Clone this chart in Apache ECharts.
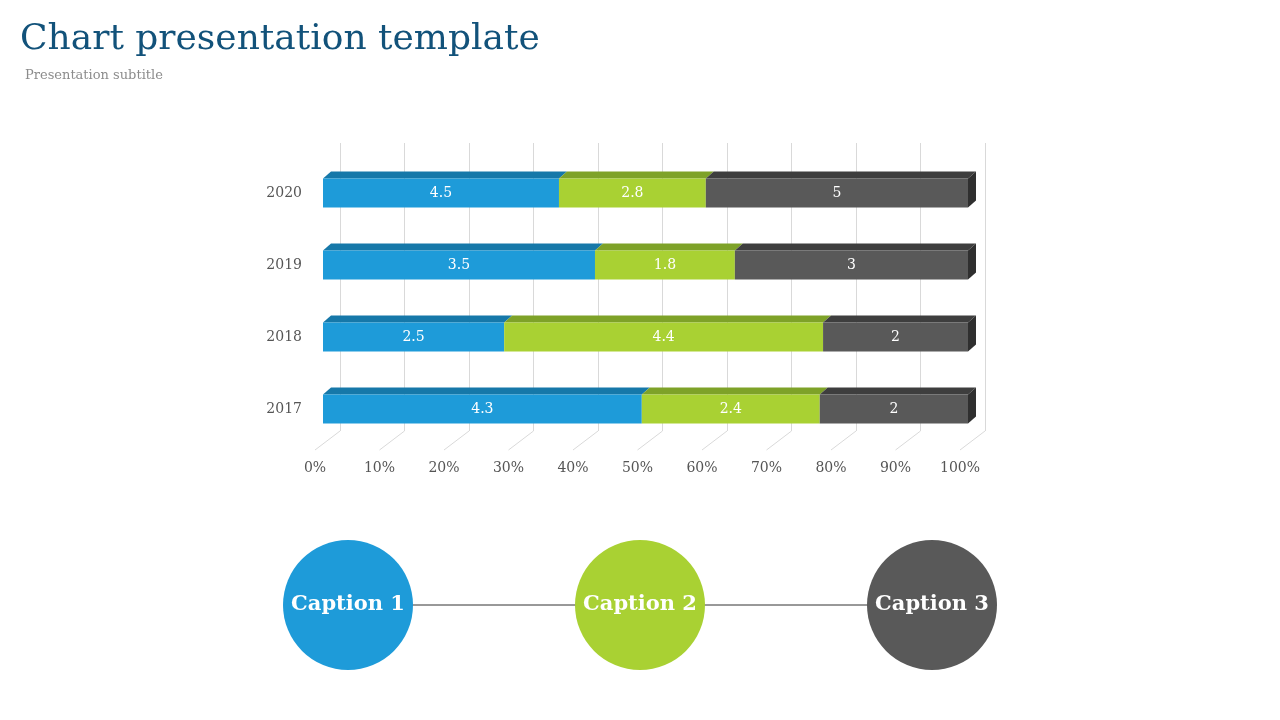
<!DOCTYPE html>
<html><head><meta charset="utf-8">
<script src="https://cdn.jsdelivr.net/npm/echarts@6/dist/echarts.min.js"></script>
<style>html,body{margin:0;background:#fff}#c{width:1280px;height:720px}</style></head>
<body><div id="c"></div>
<script>
const categories = ['2017','2018','2019','2020'];
const series1 = [4.3, 2.5, 3.5, 4.5];
const series2 = [2.4, 4.4, 1.8, 2.8];
const series3 = [2, 2, 3, 5];
const tickLabels = [0,10,20,30,40,50,60,70,80,90,100];
const captions = ['Caption 1','Caption 2','Caption 3'];

const front = ['#1E9BD9','#A9D133','#595959'];
const top_ = ['#1678A9','#7EA228','#3E3E3E'];
const side = ['#14628A','#6A8A20','#2F2F2F'];
const serif = 'Georgia, "DejaVu Serif", serif';
const all = [series1, series2, series3];

function buildData(si){
  return categories.map((c,i)=>{
    const tot = series1[i]+series2[i]+series3[i];
    let s = 0; for(let k=0;k<si;k++) s += all[k][i];
    return [s/tot*100, (s+all[si][i])/tot*100, i, all[si][i]];
  });
}
function render(si){
  return function(params, api){
    const p0 = api.coord([api.value(0), api.value(2)]);
    const p1 = api.coord([api.value(1), api.value(2)]);
    const h = 29, dx = 8, dy = 7;
    const x0=p0[0], x1=p1[0], y=p0[1]-h/2;
    const ch = [
      {type:'polygon',shape:{points:[[x0,y],[x1,y],[x1+dx,y-dy],[x0+dx,y-dy]]},style:{fill:top_[si]}},
      {type:'rect',shape:{x:x0,y:y,width:x1-x0,height:h},style:{fill:front[si]}},
      {type:'text',style:{x:(x0+x1)/2,y:p0[1],text:String(api.value(3)),fill:'#fff',font:'14px '+serif,align:'center',verticalAlign:'middle'}}
    ];
    if(si===2) ch.push({type:'polygon',shape:{points:[[x1,y],[x1+dx,y-dy],[x1+dx,y+h-dy],[x1,y+h]]},style:{fill:side[si]}});
    return {type:'group',children:ch};
  };
}
const chart = echarts.init(document.getElementById('c'));
const cx = [348,640,932];
const graphics = [
  {type:'text',left:20,top:22,style:{text:'Chart presentation template',font:'36px '+serif,fill:'#12527A'}},
  {type:'text',left:25,top:69,style:{text:'Presentation subtitle',font:'13px '+serif,fill:'#8C8C8C'}},
  {type:'line',shape:{x1:cx[0],y1:605,x2:cx[2],y2:605},style:{stroke:'#333',lineWidth:1}}
];
captions.forEach((t,i)=>{
  graphics.push({type:'circle',shape:{cx:cx[i],cy:605,r:65},style:{fill:front[i]}});
  graphics.push({type:'text',x:cx[i],y:605,style:{text:t,font:'bold 21px '+serif,fill:'#fff',align:'center',verticalAlign:'middle'}});
});
chart.setOption({
  animation:false,
  graphic:graphics,
  grid:[
    {left:323,right:312,top:157,bottom:275},
    {left:340,right:295,top:143,bottom:289}
  ],
  xAxis:[
    {gridIndex:0,type:'value',min:0,max:100,interval:10,axisLine:{show:false},axisTick:{show:false},splitLine:{show:false},
     axisLabel:{formatter:'{value}%',color:'#555',fontFamily:serif,fontSize:14,margin:16,padding:[0,16,0,0]}},
    {gridIndex:1,type:'value',min:0,max:100,interval:10,axisLine:{show:false},axisTick:{show:false},axisLabel:{show:false},
     splitLine:{show:true,lineStyle:{color:'#D9D9D9'}}}
  ],
  yAxis:[
    {gridIndex:0,type:'category',data:categories,axisLine:{show:false},axisTick:{show:false},
     axisLabel:{color:'#555',fontFamily:serif,fontSize:14,margin:21,padding:[12,0,0,0]}},
    {gridIndex:1,type:'value',min:0,max:1,show:false}
  ],
  series:[
    {type:'custom',xAxisIndex:1,yAxisIndex:1,data:tickLabels.map(v=>[v,0]),silent:true,
     renderItem:(p,api)=>{const c=api.coord([api.value(0),0]);
       return {type:'line',shape:{x1:c[0],y1:c[1],x2:c[0]-25,y2:c[1]+19},style:{stroke:'#D9D9D9',lineWidth:1}};}},
    ...[0,1,2].map(si=>({type:'custom',xAxisIndex:0,yAxisIndex:0,data:buildData(si),renderItem:render(si),encode:{x:[0,1],y:2}}))
  ]
});
</script></body></html>
